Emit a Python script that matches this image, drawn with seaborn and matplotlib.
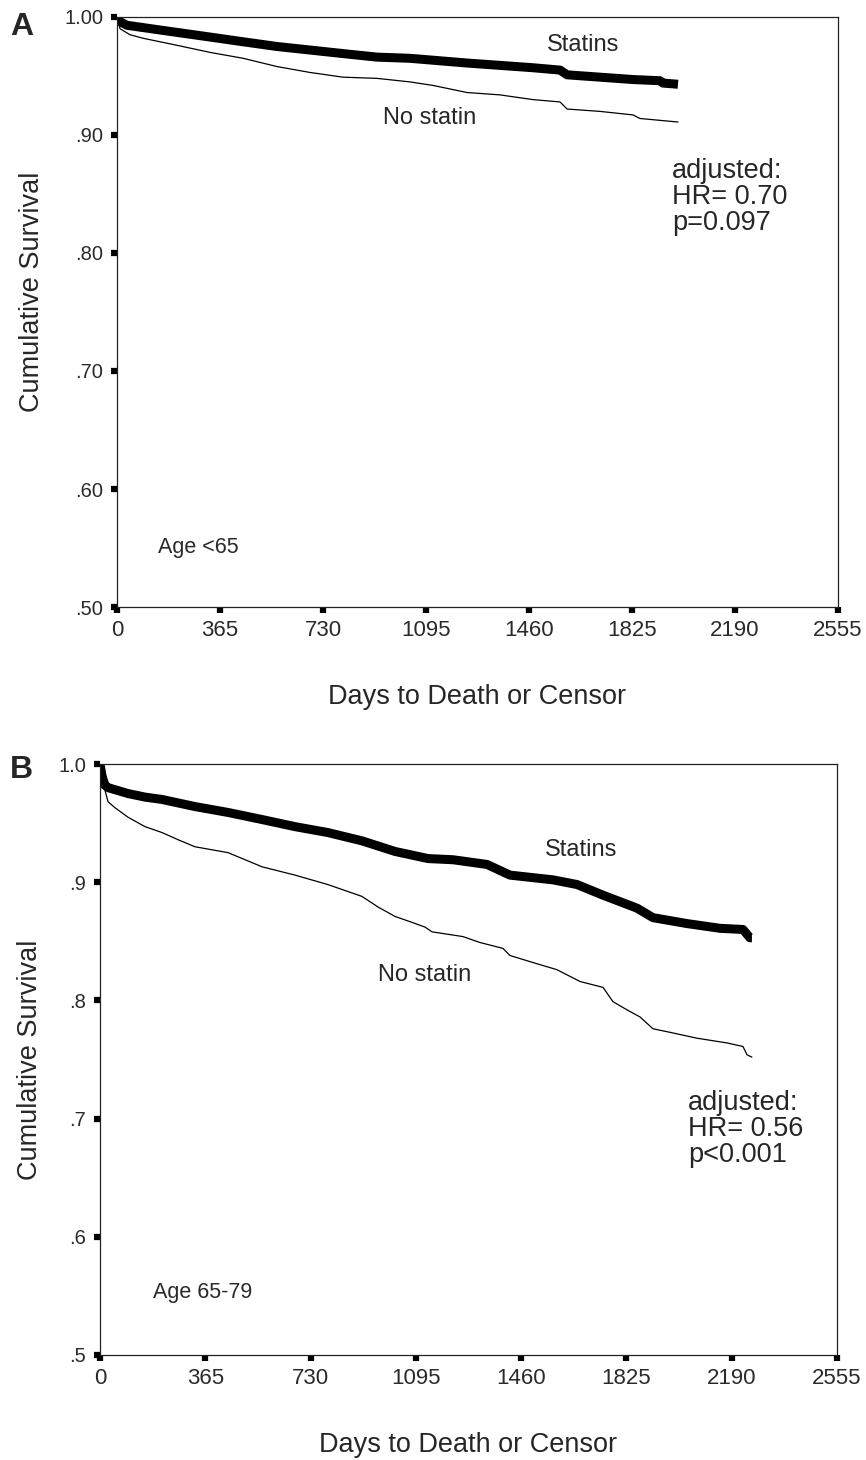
import matplotlib
matplotlib.use("Agg")
import matplotlib.pyplot as plt
import seaborn as sns
import pandas as pd

# Panel A, age < 65 (days, cumulative survival)
a_statin_days = [0, 11, 35, 152, 330, 447, 567, 684, 801, 921, 1038, 1240, 1474,
                 1570, 1595, 1712, 1829, 1924, 1935, 1988]
a_statin_surv = [1.000, 0.996, 0.993, 0.989, 0.983, 0.979, 0.975, 0.972, 0.969, 0.966,
                 0.965, 0.961, 0.957, 0.955, 0.951, 0.949, 0.947, 0.946, 0.944, 0.943]
a_nostat_days = [0, 11, 46, 92, 213, 330, 447, 567, 684, 801, 921, 1038, 1120, 1240,
                 1357, 1474, 1570, 1595, 1712, 1829, 1853, 1988]
a_nostat_surv = [1.000, 0.990, 0.985, 0.982, 0.976, 0.970, 0.965, 0.958, 0.953, 0.949,
                 0.948, 0.945, 0.942, 0.936, 0.934, 0.930, 0.928, 0.922, 0.920, 0.917,
                 0.914, 0.911]

# Panel B, age 65-79
b_statin_days = [0, 7, 17, 28, 97, 156, 215, 329, 444, 562, 676, 790, 908, 1023, 1137,
                 1224, 1342, 1421, 1570, 1654, 1744, 1862, 1917, 2035, 2149, 2229, 2253,
                 2260]
b_statin_surv = [1.000, 0.990, 0.982, 0.980, 0.975, 0.972, 0.970, 0.964, 0.959, 0.953,
                 0.947, 0.942, 0.935, 0.926, 0.920, 0.919, 0.915, 0.906, 0.902, 0.898,
                 0.889, 0.878, 0.870, 0.865, 0.861, 0.860, 0.853, 0.853]
b_nostat_days = [0, 7, 17, 28, 52, 97, 156, 215, 270, 329, 444, 562, 676, 790, 908, 964,
                 1023, 1082, 1127, 1151, 1258, 1317, 1397, 1421, 1515, 1584, 1664, 1744,
                 1778, 1827, 1872, 1917, 1976, 2070, 2174, 2229, 2243, 2260]
b_nostat_surv = [1.000, 0.992, 0.978, 0.968, 0.963, 0.955, 0.947, 0.942, 0.936, 0.930,
                 0.925, 0.913, 0.906, 0.898, 0.888, 0.879, 0.871, 0.866, 0.862, 0.858,
                 0.854, 0.849, 0.844, 0.838, 0.831, 0.826, 0.816, 0.811, 0.799, 0.792,
                 0.786, 0.776, 0.773, 0.768, 0.764, 0.761, 0.754, 0.752]

x_ticks = [0, 365, 730, 1095, 1460, 1825, 2190, 2555]
y_ticks = [0.5, 0.6, 0.7, 0.8, 0.9, 1.0]
a_ytick_labels = [".50", ".60", ".70", ".80", ".90", "1.00"]
b_ytick_labels = [".5", ".6", ".7", ".8", ".9", "1.0"]

sns.set_style("ticks")
plt.rcParams['font.family'] = ['Liberation Sans', 'DejaVu Sans']

fig = plt.figure(figsize=(8.66, 14.6), dpi=100)
W, H = 866, 1460
ax_a = fig.add_axes([117 / W, 1 - 607 / H, (838 - 117) / W, (607 - 17) / H])
ax_b = fig.add_axes([100 / W, 1 - 1355 / H, (837 - 100) / W, (1355 - 764) / H])


def draw_panel(ax, s_days, s_surv, n_days, n_surv, ylabels, ylab_y, ylab_x):
    statin = pd.DataFrame({"days": s_days, "surv": s_surv})
    nostat = pd.DataFrame({"days": n_days, "surv": n_surv})
    sns.lineplot(data=nostat, x="days", y="surv", ax=ax, color="black", lw=0.9,
                 estimator=None, legend=False)
    sns.lineplot(data=statin, x="days", y="surv", ax=ax, color="black", lw=6.5,
                 estimator=None, legend=False, solid_capstyle="butt")
    ax.set_xlim(0, 2555)
    ax.set_ylim(0.5, 1.0)
    ax.set_xticks(x_ticks)
    ax.set_xticklabels([str(t) for t in x_ticks])
    ax.set_yticks(y_ticks)
    ax.set_yticklabels(ylabels)
    ax.tick_params(direction="out", length=4, width=4.5, color="black",
                   labelcolor="#2a2a2a", bottom=True, left=True,
                   top=False, right=False)
    ax.tick_params(axis="x", pad=5, labelsize=16)
    ax.tick_params(axis="y", pad=6, labelsize=14.5)
    for sp in ax.spines.values():
        sp.set_color("#222222")
        sp.set_linewidth(0.9)
    ax.set_xlabel("Days to Death or Censor", fontsize=19.5)
    ax.set_ylabel("Cumulative Survival", fontsize=19.5)
    ax.xaxis.set_label_coords(0.5, -0.13)
    ax.yaxis.set_label_coords(ylab_x, ylab_y)
    ax.set_facecolor("white")


draw_panel(ax_a, a_statin_days, a_statin_surv, a_nostat_days, a_nostat_surv,
           a_ytick_labels, 0.535, -0.10)
draw_panel(ax_b, b_statin_days, b_statin_surv, b_nostat_days, b_nostat_surv,
           b_ytick_labels, 0.5, -0.077)

# annotations panel A
ax_a.text(1651, 0.976, "Statins", fontsize=17, ha="center", va="center")
ax_a.text(1109, 0.914, "No statin", fontsize=17, ha="center", va="center")
ax_a.text(1967, 0.8805, "adjusted:\nHR= 0.70\np=0.097", fontsize=19.5, ha="left",
          va="top", linespacing=1.0)
ax_a.text(145, 0.55, "Age <65", fontsize=15.5, ha="left", va="center", color="#2a2a2a")

# annotations panel B
ax_b.text(1668, 0.927, "Statins", fontsize=17, ha="center", va="center")
ax_b.text(1127, 0.8215, "No statin", fontsize=17, ha="center", va="center")
ax_b.text(2038, 0.724, "adjusted:\nHR= 0.56\np<0.001", fontsize=19.5, ha="left",
          va="top", linespacing=1.0)
ax_b.text(184, 0.5525, "Age 65-79", fontsize=15.5, ha="left", va="center", color="#2a2a2a")

fig.text(10 / W, 1 - 12 / H, "A", fontsize=23, fontweight="bold", ha="left", va="top")
fig.text(10 / W, 1 - 755 / H, "B", fontsize=23, fontweight="bold", ha="left", va="top")

fig.savefig("out.png", dpi=100, facecolor="white")
